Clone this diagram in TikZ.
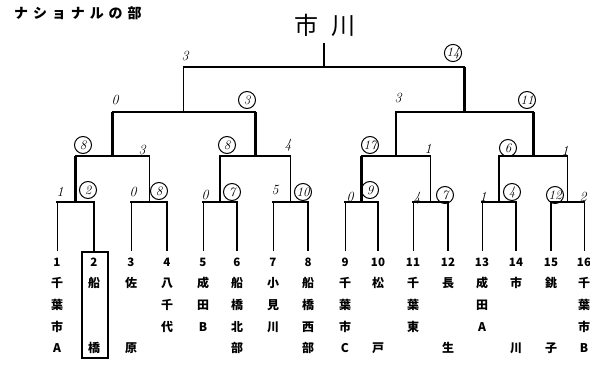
\documentclass[tikz,border=0pt]{standalone}
\usepackage{fontspec}
\newfontfamily\jp{Noto Sans CJK JP}
\begin{document}
\begin{tikzpicture}[x=1pt,y=-1pt,
    hline/.style={line width=1.5pt,line cap=rect},
    lose/.style={line width=0.8pt},
    win/.style={line width=2.5pt},
    score/.style={font=\itshape\fontsize{14}{14}\selectfont,inner sep=1pt},
    won/.style={score,font=\itshape\fontsize{13}{13}\selectfont,draw,circle,line width=1pt,minimum size=17pt,inner sep=0pt},
    teamno/.style={font=\jp\bfseries\fontsize{11.5}{11.5}\selectfont,inner sep=1pt,outer sep=6pt},
    teamname/.style={font=\jp\bfseries\fontsize{12}{12}\selectfont,inner sep=0pt}]
  \useasboundingbox (0,0) rectangle (590,371);
  % title and winner
  \node[font=\jp\bfseries\fontsize{14}{14}\selectfont\addfontfeature{LetterSpace=35},anchor=west,inner sep=0pt] (title) at (14,13) {ナショナルの部};
  \node[font=\jp\fontsize{24}{24}\selectfont,inner sep=0pt] (champ) at (325,25) {市\hspace{14pt}川};
  % teams
  \foreach \i/\x/\a/\b/\c/\d in {1/57/千/葉/市/A, 2/94/船/{}/{}/橋, 3/131/佐/{}/{}/原,
      4/167/八/千/代/{}, 5/203/成/田/B/{}, 6/237/船/橋/北/部, 7/273/小/見/川/{},
      8/308/船/橋/西/部, 9/345/千/葉/市/C, 10/378/松/{}/{}/戸, 11/413/千/葉/東/{},
      12/448/長/{}/{}/生, 13/482/成/田/A/{}, 14/516/市/{}/{}/川, 15/551/銚/{}/{}/子,
      16/584/千/葉/市/B}
  {
    \node[teamno] (t\i) at (\x,262) {\i};
    \node[teamname] (n\i-1) at (\x,283) {\a};
    \node[teamname] (n\i-2) at (\x,305) {\b};
    \node[teamname] (n\i-3) at (\x,327) {\c};
    \node[teamname] (n\i-4) at (\x,348) {\d};
    \coordinate (a\i) at (\x,202);
  }
  \draw[line width=1.2pt] (82,252) rectangle (108,358);
  % bracket corners
  \foreach \k/\x in {1/75.5,2/149,3/220,4/290.5,5/361.5,6/430.5,7/499,8/567.5}
  {
    \coordinate (m\k) at (\x,202);
    \coordinate (p\k) at (\x,156);
  }
  \foreach \k/\x in {1/112.25,2/255.25,3/396,4/533.25}
  {
    \coordinate (q\k) at (\x,156);
    \coordinate (r\k) at (\x,112);
  }
  \coordinate (s1) at (183.75,112);
  \coordinate (f1) at (183.75,67);
  \coordinate (s2) at (464.6,112);
  \coordinate (f2) at (464.6,67);
  \coordinate (c) at (324.2,67);
  \coordinate (ctop) at (324.2,43);
  % first round
  \foreach \i/\j in {1/2,3/4,5/6,7/8,9/10,11/12,13/14,15/16}
    {\draw[hline] (a\i) -- (a\j);}
  \foreach \i in {2,4,6,8,10,12,14,15}
    {\draw[win] (a\i) -- (t\i.north);}
  \foreach \i in {1,3,5,7,9,11,13,16}
    {\draw[lose] (a\i) -- (t\i.north);}
  % second round
  \foreach \k in {1,3,5,7}
    {\draw[win] (m\k) -- (p\k);}
  \foreach \k in {2,4,6,8}
    {\draw[lose] (m\k) -- (p\k);}
  \foreach \i/\j in {1/2,3/4,5/6,7/8}
    {\draw[hline] (p\i) -- (p\j);}
  % semi-finals and final
  \foreach \k in {1,...,4}
    {\draw[win] (q\k) -- (r\k);}
  \draw[hline] (r1) -- (r2);
  \draw[hline] (r3) -- (r4);
  \draw[lose] (s1) -- (f1);
  \draw[win] (s2) -- (f2);
  \draw[hline] (f1) -- (f2);
  \draw[win] (c) -- (ctop);
  % scores
  \foreach \n/\x/\y/\v in {1/88/190/2, 2/159/191/8, 3/232/192/7, 4/303/192/10,
      5/370/190/9, 6/445/195/7, 7/512/192/4, 8/555/195/12, 9/83/145/8, 10/227/145/8,
      11/370/145/17, 12/508/148/6, 13/247/100/3, 14/527/100/11, 15/453/53/14}
    {\node[won] (w\n) at (\x,\y) {\v};}
  \foreach \n/\x/\y/\v in {1/60/192/1, 2/133/192/0, 3/205/195/0, 4/275/190/5,
      5/350/197/0, 6/417/198/4, 7/483/197/1, 8/583/197/2, 9/142/150/3, 10/288/145/4,
      11/428/149/1, 12/565/151/1, 13/115/100/0, 14/398/98/3, 15/185/56/3}
    {\node[score] (l\n) at (\x,\y) {\v};}
\end{tikzpicture}
\end{document}
